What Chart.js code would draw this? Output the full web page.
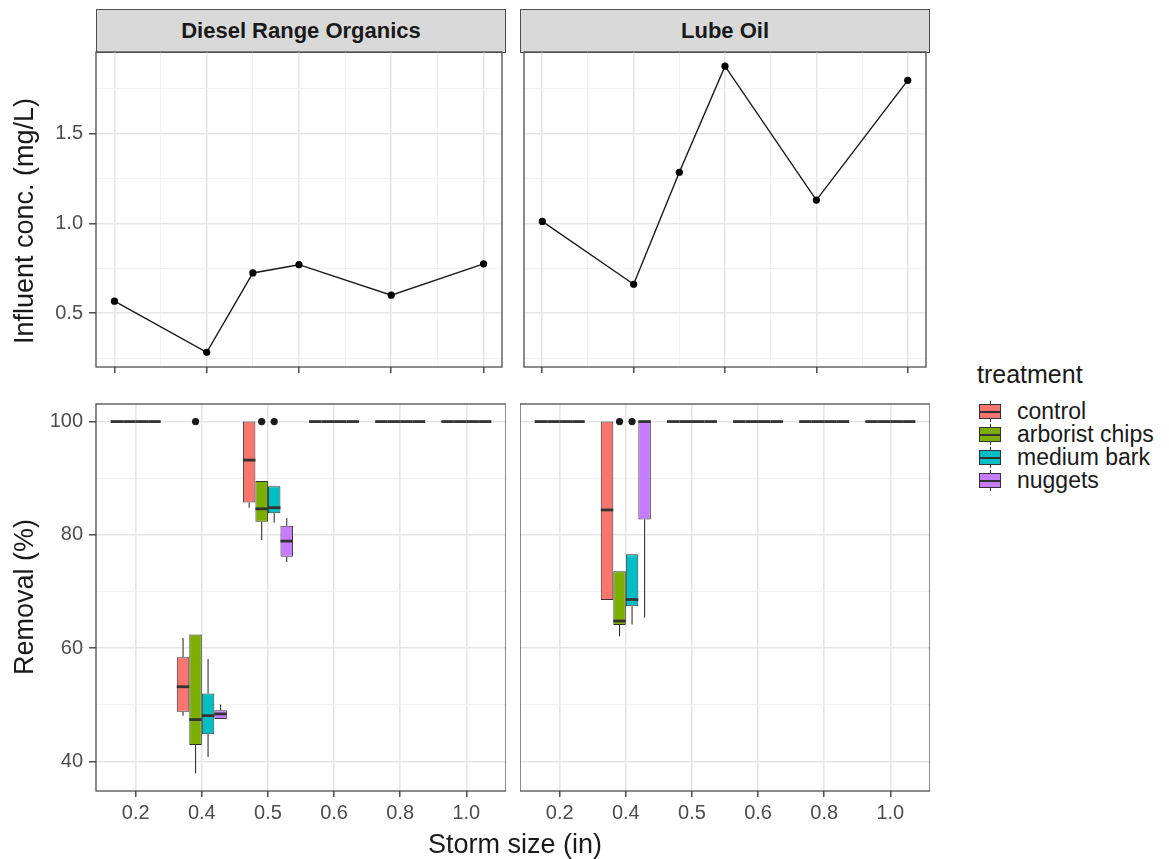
<!DOCTYPE html>
<html>
<head>
<meta charset="utf-8">
<title>Influent concentration and removal by storm size</title>
<script src="https://cdn.jsdelivr.net/npm/chart.js@4.4.1/dist/chart.umd.min.js"></script>
<style>
  body { margin: 0; background: #fff; width: 1169px; height: 859px; position: relative; overflow: hidden;
         font-family: 'Liberation Sans', Arial, sans-serif; }
  canvas { position: absolute; }
  .strip { position: absolute; top: 9px; height: 44px; width: 410px; box-sizing: border-box;
           background: #d9d9d9; border: 1.3px solid #4d4d4d; color: #1a1a1a;
           font-weight: bold; font-size: 22px; line-height: 41px; text-align: center; }
  .ytitle { position: absolute; width: 400px; height: 30px; line-height: 30px; text-align: center;
            font-size: 27px; color: #1a1a1a; transform: rotate(-90deg); white-space: nowrap; }
  .xtitle { position: absolute; left: 315px; top: 831px; width: 400px; text-align: center;
            font-size: 27px; line-height: 27px; color: #1a1a1a; }
  #legend { position: absolute; left: 977px; top: 362px; color: #1a1a1a; }
  #legend .title { font-size: 25px; line-height: 25px; margin-bottom: 13px; }
  #legend .row { position: relative; height: 23px; }
  #legend .key { position: absolute; left: 2px; top: 0; width: 22px; height: 23px; }
  #legend .whisk { position: absolute; left: 10.5px; top: 1px; width: 1px; height: 21px; background: #333; }
  #legend .box { position: absolute; left: 0; top: 4px; width: 22px; height: 15px; box-sizing: border-box; border: 1px solid #333; }
  #legend .med { position: absolute; left: 0; top: 10.5px; width: 22px; height: 2px; background: #333; }
  #legend .lab { position: absolute; left: 40px; top: 0; font-size: 23px; line-height: 23px; white-space: nowrap; }
</style>
</head>
<body>

<div class="strip" style="left:96px;">Diesel Range Organics</div>
<div class="strip" style="left:520px;">Lube Oil</div>

<canvas id="dro-influent" width="506" height="355" style="left:0px; top:32px;"></canvas>
<canvas id="lube-influent" width="410" height="355" style="left:520px; top:32px;"></canvas>
<canvas id="dro-removal" width="506" height="447" style="left:0px; top:384px;"></canvas>
<canvas id="lube-removal" width="410" height="447" style="left:520px; top:384px;"></canvas>

<div class="ytitle" style="left:-176px; top:206px;">Influent conc. (mg/L)</div>
<div class="ytitle" style="left:-176px; top:582px;">Removal (%)</div>
<div class="xtitle">Storm size (in)</div>

<div id="legend"><div class="title">treatment</div></div>

<script>
// storm sizes (x axis)
const stormLabels = ['0.2', '0.4', '0.5', '0.6', '0.8', '1.0'];
const stormSizes = [0.2, 0.4, 0.5, 0.6, 0.8, 1.0];

// influent concentration (mg/L)
const droInfluent = [0.567, 0.282, 0.724, 0.770, 0.600, 0.775];
const lubeInfluent = [1.011, 0.661, 1.285, 1.876, 1.130, 1.797];

const treatments = ['control', 'arborist chips', 'medium bark', 'nuggets'];
const treatmentColors = ['#F8766D', '#7CAE00', '#00BFC4', '#C77CFF'];

// removal (%) box stats per storm: [lower whisker, q1, median, q3, upper whisker]
const droControl = [[100,100,100,100,100], [48.1,48.8,53.2,58.4,61.8], [84.8,85.7,93.2,100,100],
                    [100,100,100,100,100], [100,100,100,100,100], [100,100,100,100,100]];
const droArborist = [[100,100,100,100,100], [37.9,42.9,47.4,62.4,62.4], [79.1,82.3,84.6,89.5,89.5],
                     [100,100,100,100,100], [100,100,100,100,100], [100,100,100,100,100]];
const droMediumBark = [[100,100,100,100,100], [40.8,44.8,48.1,52.0,58.1], [82.2,83.8,84.8,88.6,88.6],
                       [100,100,100,100,100], [100,100,100,100,100], [100,100,100,100,100]];
const droNuggets = [[100,100,100,100,100], [47.5,47.5,48.4,49.05,50.05], [75.2,76.15,78.9,81.6,83.0],
                    [100,100,100,100,100], [100,100,100,100,100], [100,100,100,100,100]];

const lubeControl = [[100,100,100,100,100], [68.5,68.5,84.4,100,100], [100,100,100,100,100],
                     [100,100,100,100,100], [100,100,100,100,100], [100,100,100,100,100]];
const lubeArborist = [[100,100,100,100,100], [62.1,64.1,64.8,73.6,73.6], [100,100,100,100,100],
                      [100,100,100,100,100], [100,100,100,100,100], [100,100,100,100,100]];
const lubeMediumBark = [[100,100,100,100,100], [64.2,67.4,68.6,76.6,76.6], [100,100,100,100,100],
                        [100,100,100,100,100], [100,100,100,100,100], [100,100,100,100,100]];
const lubeNuggets = [[100,100,100,100,100], [65.4,82.7,100,100,100], [100,100,100,100,100],
                     [100,100,100,100,100], [100,100,100,100,100], [100,100,100,100,100]];

// outliers per storm
const droOutliers = [
    [[], [], [], [], [], []],
    [[], [100], [100], [], [], []],
    [[], [], [100], [], [], []],
    [[], [], [], [], [], []]
];
const lubeOutliers = [
    [[], [], [], [], [], []],
    [[], [100], [], [], [], []],
    [[], [100], [], [], [], []],
    [[], [], [], [], [], []]
];

Chart.defaults.font.family = "'Liberation Sans', Arial, sans-serif";

const GRID_MAJOR = '#e6e6e6';
const GRID_MINOR = '#efefef';
const TICK_COLOR = '#333333';
const LABEL_COLOR = '#4d4d4d';

// ggplot-like major/minor grid from one tick set
function gridFor(isMajor, tickLength, drawTicks) {
    return {
        offset: false,
        drawTicks: drawTicks,
        tickLength: tickLength,
        color: c => (c.tick && isMajor(c.tick.value)) ? GRID_MAJOR : GRID_MINOR,
        lineWidth: c => (c.tick && isMajor(c.tick.value)) ? 1.6 : 0.8,
        tickColor: c => (c.tick && isMajor(c.tick.value)) ? TICK_COLOR : 'rgba(0,0,0,0)',
        tickWidth: 1.3
    };
}

const panelBorder = {
    id: 'panelBorder',
    afterDraw(chart) {
        const {ctx, chartArea: a} = chart;
        ctx.save();
        ctx.strokeStyle = '#4d4d4d';
        ctx.lineWidth = 1.3;
        ctx.strokeRect(a.left, a.top, a.right - a.left, a.bottom - a.top);
        ctx.restore();
    }
};

// whiskers, medians and outliers on top of the floating bars
const boxWhiskers = {
    id: 'boxWhiskers',
    afterDatasetsDraw(chart) {
        const ctx = chart.ctx;
        const yScale = chart.scales.y;
        chart.data.datasets.forEach((ds, di) => {
            const meta = chart.getDatasetMeta(di);
            meta.data.forEach((bar, i) => {
                const [lo, q1, med, q3, hi] = ds.stats[i];
                const x = bar.x;
                const half = bar.width / 2;
                ctx.save();
                ctx.strokeStyle = '#333333';
                ctx.lineWidth = 1.1;
                ctx.beginPath();
                ctx.moveTo(x, yScale.getPixelForValue(q3));
                ctx.lineTo(x, yScale.getPixelForValue(hi));
                ctx.moveTo(x, yScale.getPixelForValue(q1));
                ctx.lineTo(x, yScale.getPixelForValue(lo));
                ctx.stroke();
                const my = yScale.getPixelForValue(med);
                ctx.lineWidth = 2.8;
                ctx.beginPath();
                ctx.moveTo(x - half, my);
                ctx.lineTo(x + half, my);
                ctx.stroke();
                ctx.fillStyle = '#1a1a1a';
                ds.outliers[i].forEach(v => {
                    ctx.beginPath();
                    ctx.arc(x, yScale.getPixelForValue(v), 3.6, 0, Math.PI * 2);
                    ctx.fill();
                });
                ctx.restore();
            });
        });
    }
};

function createInfluentChart(id, values, showY) {
    const isMajorX = v => Math.round(v * 10) % 2 === 0;
    const isMajorY = v => Math.round(v * 4) % 2 === 0;
    return new Chart(document.getElementById(id), {
        type: 'line',
        data: {
            datasets: [{
                data: stormSizes.map((x, i) => ({x: x, y: values[i]})),
                borderColor: '#1a1a1a',
                borderWidth: 1.4,
                pointRadius: 3.6,
                pointBackgroundColor: '#000',
                pointBorderWidth: 0,
                tension: 0
            }]
        },
        options: {
            responsive: false,
            animation: false,
            layout: { padding: { top: 20 } },
            plugins: { legend: { display: false }, tooltip: { enabled: false } },
            scales: {
                x: {
                    type: 'linear', min: 0.16, max: 1.04,
                    border: { display: false },
                    ticks: { display: false, stepSize: 0.1, includeBounds: false },
                    grid: gridFor(isMajorX, 6, true),
                    afterFit: s => { s.height = 20; }
                },
                y: {
                    type: 'linear', min: 0.2, max: 1.955,
                    border: { display: false },
                    ticks: {
                        display: showY, stepSize: 0.25, includeBounds: false, padding: 6,
                        color: LABEL_COLOR, font: { size: 20 },
                        callback: v => isMajorY(v) ? v.toFixed(1) : ''
                    },
                    grid: gridFor(isMajorY, 7, showY),
                    afterFit: s => { s.width = showY ? 96 : 0; }
                }
            }
        },
        plugins: [panelBorder]
    });
}

function createRemovalChart(id, stats, outliers, showY) {
    const isMajorY = v => v % 20 === 0;
    return new Chart(document.getElementById(id), {
        type: 'bar',
        data: {
            datasets: treatments.map((t, j) => ({
                label: t,
                data: stats[j].map((s, i) => ({x: i, y: [s[1], s[3]]})),
                stats: stats[j],
                outliers: outliers[j],
                backgroundColor: treatmentColors[j],
                borderColor: '#333333',
                borderWidth: 1,
                borderSkipped: false,
                categoryPercentage: 0.757,
                barPercentage: 1
            }))
        },
        options: {
            responsive: false,
            animation: false,
            layout: { padding: { top: 20 } },
            plugins: { legend: { display: false }, tooltip: { enabled: false } },
            scales: {
                x: {
                    type: 'linear', min: -0.6, max: 5.6, offset: false,
                    border: { display: false },
                    ticks: {
                        stepSize: 1, includeBounds: false, padding: 4, maxRotation: 0, autoSkip: false,
                        color: LABEL_COLOR, font: { size: 20 },
                        callback: v => stormLabels[v] ?? ''
                    },
                    grid: gridFor(() => true, 6, true),
                    afterFit: s => { s.height = 40; }
                },
                y: {
                    type: 'linear', min: 34.8, max: 103.1,
                    border: { display: false },
                    ticks: {
                        display: showY, stepSize: 10, includeBounds: false, padding: 6,
                        color: LABEL_COLOR, font: { size: 20 },
                        callback: v => isMajorY(v) ? String(v) : ''
                    },
                    grid: gridFor(isMajorY, 7, showY),
                    afterFit: s => { s.width = showY ? 96 : 0; }
                }
            }
        },
        plugins: [boxWhiskers, panelBorder]
    });
}

createInfluentChart('dro-influent', droInfluent, true);
createInfluentChart('lube-influent', lubeInfluent, false);
createRemovalChart('dro-removal', [droControl, droArborist, droMediumBark, droNuggets], droOutliers, true);
createRemovalChart('lube-removal', [lubeControl, lubeArborist, lubeMediumBark, lubeNuggets], lubeOutliers, false);

// legend
const legend = document.getElementById('legend');
treatments.forEach((t, j) => {
    const row = document.createElement('div');
    row.className = 'row';
    row.innerHTML = `
        <div class="key">
            <div class="whisk"></div>
            <div class="box" style="background:${treatmentColors[j]}"></div>
            <div class="med"></div>
        </div>
        <div class="lab">${t}</div>`;
    legend.appendChild(row);
});
</script>
</body>
</html>
